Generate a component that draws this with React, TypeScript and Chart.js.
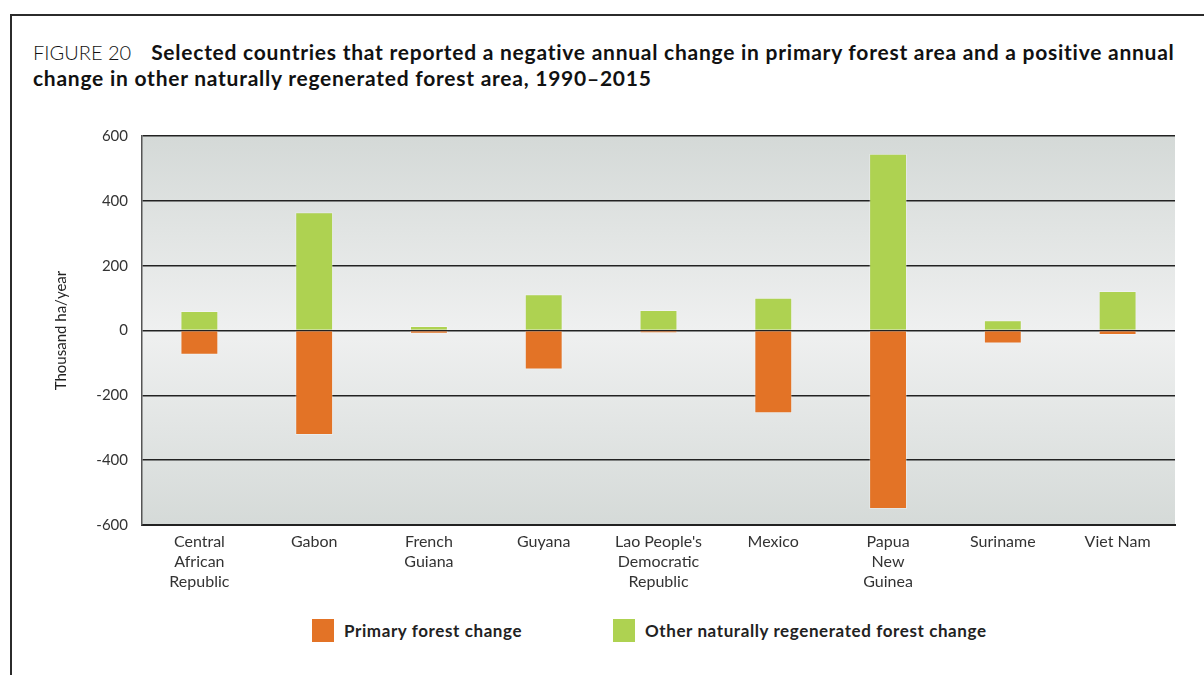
import React, { useEffect, useRef } from "react";
import { Chart, registerables } from "chart.js";

Chart.register(...registerables);

const categories: string[][] = [
  ["Central", "African", "Republic"],
  ["Gabon"],
  ["French", "Guiana"],
  ["Guyana"],
  ["Lao People's", "Democratic", "Republic"],
  ["Mexico"],
  ["Papua", "New", "Guinea"],
  ["Suriname"],
  ["Viet Nam"],
];

const primaryForestChange = [-75, -322, -10, -120, -8, -255, -551, -40, -14];
const otherRegeneratedChange = [60, 365, 14, 112, 63, 101, 545, 32, 122];

const seriesNames = ["Primary forest change", "Other naturally regenerated forest change"];
const seriesColors = ["#e37326", "#aed251"];

const yMin = -600;
const yMax = 600;
const yStep = 200;

const FONT = "Lato, 'Open Sans', sans-serif";

export default function App() {
  const canvasRef = useRef<HTMLCanvasElement | null>(null);

  useEffect(() => {
    const bgPlugin = {
      id: "plotBackground",
      beforeDraw(chart: any) {
        const { ctx, chartArea: a } = chart;
        const g = ctx.createLinearGradient(0, a.top, 0, a.bottom);
        g.addColorStop(0, "#d4d9d7");
        g.addColorStop(0.5, "#eff0f0");
        g.addColorStop(1, "#d5dad8");
        ctx.save();
        ctx.fillStyle = g;
        ctx.fillRect(a.left, a.top, a.right - a.left, a.bottom - a.top);
        ctx.restore();
      },
    };

    const chart = new Chart(canvasRef.current as HTMLCanvasElement, {
      type: "bar",
      data: {
        labels: categories,
        datasets: [
          {
            label: seriesNames[0],
            data: primaryForestChange,
            backgroundColor: seriesColors[0],
            borderColor: "rgba(255,255,255,0.3)",
            borderWidth: 1,
            stack: "s",
          },
          {
            label: seriesNames[1],
            data: otherRegeneratedChange,
            backgroundColor: seriesColors[1],
            borderColor: "rgba(255,255,255,0.3)",
            borderWidth: 1,
            stack: "s",
          },
        ],
      },
      options: {
        responsive: false,
        maintainAspectRatio: false,
        animation: false,
        layout: { padding: { left: 48, right: 29, top: 36, bottom: 0 } },
        datasets: {
          bar: { barPercentage: 1, categoryPercentage: 0.33 },
        },
        plugins: {
          legend: { display: false },
          tooltip: { enabled: false },
          title: { display: false },
        },
        scales: {
          x: {
            stacked: true,
            grid: { display: false, drawTicks: false },
            border: { display: true, color: "#222", width: 2 },
            ticks: {
              color: "#333",
              font: { family: FONT, size: 16, lineHeight: 1.25 },
              padding: 7,
              maxRotation: 0,
              autoSkip: false,
            },
            afterFit: (s: any) => {
              s.height = 75;
            },
          },
          y: {
            stacked: true,
            min: yMin,
            max: yMax,
            ticks: {
              stepSize: yStep,
              color: "#333",
              font: { family: FONT, size: 15 },
              padding: 14,
            },
            grid: { color: "#222", lineWidth: 1.5, drawTicks: false },
            border: { display: true, color: "#555", width: 1.5 },
            title: {
              display: true,
              text: "Thousand ha/year",
              color: "#222",
              font: { family: FONT, size: 15 },
              padding: { top: 4, bottom: 0 },
            },
            afterFit: (s: any) => {
              s.width = 94;
            },
          },
        },
      },
      plugins: [bgPlugin],
    });
    return () => chart.destroy();
  }, []);

  return (
    <div
      style={{
        position: "fixed",
        left: 0,
        top: 0,
        width: 1204,
        height: 675,
        background: "#fff",
        overflow: "hidden",
        fontFamily: FONT,
      }}
    >
      <div
        style={{
          position: "absolute",
          left: 10,
          top: 14,
          right: 0,
          bottom: 0,
          borderTop: "2px solid #2b2b2b",
          borderLeft: "2px solid #2b2b2b",
        }}
      />
      <div
        style={{
          position: "absolute",
          left: 33,
          top: 39,
          fontSize: 21,
          lineHeight: "25px",
          color: "#111",
          whiteSpace: "nowrap",
        }}
      >
        <div>
          <span style={{ fontWeight: 300, fontSize: 20 }}>FIGURE 20</span>
          <span style={{ fontWeight: 700, letterSpacing: "0.75px", marginLeft: 20 }}>
            Selected countries that reported a negative annual change in primary forest area and a positive annual
          </span>
        </div>
        <div style={{ fontWeight: 700, letterSpacing: "0.75px" }}>
          change in other naturally regenerated forest area, 1990–2015
        </div>
      </div>
      <canvas
        ref={canvasRef}
        width={1204}
        height={500}
        style={{ position: "absolute", left: 0, top: 100, width: 1204, height: 500 }}
      />
      {seriesNames.map((name, i) => (
        <div
          key={name}
          style={{
            position: "absolute",
            left: i === 0 ? 312 : 613,
            top: 619,
            display: "flex",
            alignItems: "center",
            height: 23,
            fontWeight: 700,
            fontSize: 17,
            letterSpacing: "0.6px",
            color: "#222",
            whiteSpace: "nowrap",
          }}
        >
          <span
            style={{
              display: "inline-block",
              width: 22,
              height: 23,
              background: seriesColors[i],
              marginRight: 10,
            }}
          />
          <span>{name}</span>
        </div>
      ))}
    </div>
  );
}
